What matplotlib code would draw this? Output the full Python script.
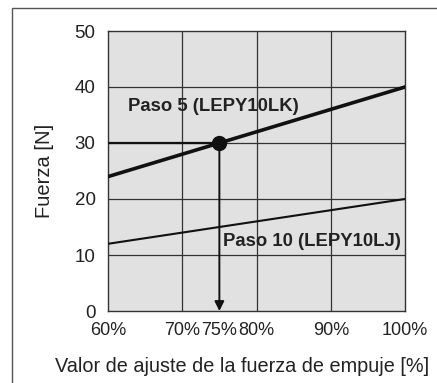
import numpy as np
import matplotlib.pyplot as plt
from matplotlib.patches import Rectangle

plt.rcParams['font.family'] = ['Liberation Sans', 'DejaVu Sans']

# data
ajuste = [60, 70, 75, 80, 90, 100]
paso5 = [24, 28, 30, 32, 36, 40]
paso10 = [12, 14, 15, 16, 18, 20]
xticks = [60, 70, 75, 80, 90, 100]
xtick_labels = ['60%', '70%', '75%', '80%', '90%', '100%']
yticks = [0, 10, 20, 30, 40, 50]
punto = (75, 30)

fig = plt.figure(figsize=(4.37, 3.83), dpi=100)
ax = fig.add_axes([108/437, 1 - 311/383, 297/437, 280/383])
ax.set_facecolor('#e1e1e1')

# outer frame
fig.patches.append(Rectangle((12/437, -0.1), 1.2, 1 - 8/383 + 0.1,
                             transform=fig.transFigure, fill=False,
                             edgecolor='#555555', lw=1.0))

ax.set_xlim(60, 100)
ax.set_ylim(0, 50)
for v in [70, 80, 90]:
    ax.axvline(v, color='#333333', lw=0.9, zorder=1)
for v in [10, 20, 30, 40]:
    ax.axhline(v, color='#333333', lw=0.9, zorder=1)

ax.plot(ajuste, paso5, color='#111111', lw=2.6, zorder=3)
ax.plot(ajuste, paso10, color='#111111', lw=1.5, zorder=3)

ax.plot([60, punto[0]], [punto[1], punto[1]], color='#111111', lw=1.6, zorder=3)
ax.annotate('', xy=(punto[0], 0), xytext=punto,
            arrowprops=dict(arrowstyle='-|>', color='#111111', lw=1.4,
                            mutation_scale=14, shrinkA=0, shrinkB=0),
            zorder=3)
ax.plot(*punto, 'o', color='#111111', ms=10, zorder=4)

ax.text(62.7, 36.6, 'Paso 5 (LEPY10LK)', fontsize=13.3, fontweight='bold',
        va='center', ha='left', color='#222222')
ax.text(75.5, 12.5, 'Paso 10 (LEPY10LJ)', fontsize=13.3, fontweight='bold',
        va='center', ha='left', color='#222222')

ax.set_xticks(xticks)
ax.set_xticklabels(xtick_labels)
ax.set_yticks(yticks)
ax.tick_params(length=0, labelsize=13.5, colors='#222222', pad=9)
ax.tick_params(axis='x', pad=8, labelsize=13)
for s in ax.spines.values():
    s.set_color('#333333')
    s.set_linewidth(1.0)

ax.set_ylabel('Fuerza [N]', fontsize=14.5, color='#222222', labelpad=15)
fig.text(242/437, 1 - 366/383, 'Valor de ajuste de la fuerza de empuje [%]',
         fontsize=14.3, color='#222222', ha='center', va='center')

fig.savefig('out.png', dpi=100)
